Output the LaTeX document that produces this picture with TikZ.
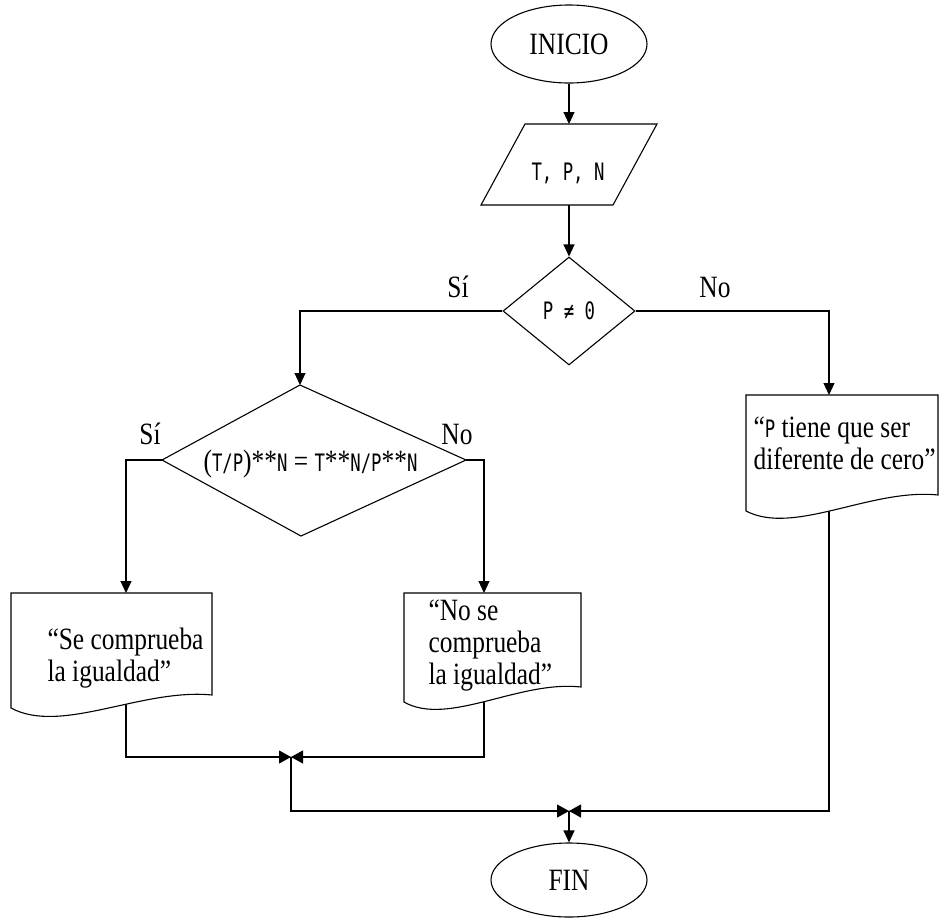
\documentclass[tikz,border=0pt]{standalone}
\usepackage{fontspec}
\setmainfont[FakeStretch=0.82]{Liberation Serif}
\newfontfamily\mono[FakeStretch=0.72]{DejaVu Sans Mono}
\newcommand\mtxt[1]{{\mono\fontsize{24}{32}\selectfont #1}}
\usetikzlibrary{arrows.meta,shapes.geometric}
\begin{document}
\begin{tikzpicture}[x=1pt,y=-1pt,line width=1.1pt,
  every node/.style={inner sep=0pt, font=\fontsize{31}{32}\selectfont},
  arr/.style={-{Triangle[length=12pt,width=11pt]}},
  jarr/.style={-{Triangle[length=12pt,width=13pt]}},
  term/.style={ellipse, draw, fill=white, minimum width=156pt, minimum height=78pt},
  dec/.style={diamond, draw, fill=white, minimum width=132pt, minimum height=108pt},
  shp/.style={draw, fill=white, line join=miter},
  doctext/.style={anchor=north west, align=left},
  lbl/.style={anchor=base}]
\useasboundingbox (0,0) rectangle (940,919);

% named points
\coordinate (pT) at (569,124);
\coordinate (pB) at (569,205);
\coordinate (d2T) at (300,385);
\coordinate (d2R) at (466,460);
\coordinate (d2B) at (301,536);
\coordinate (d2L) at (162,460);
\coordinate (o1T) at (126,593);
\coordinate (o1B) at (126,700);
\coordinate (o2T) at (484,593);
\coordinate (o2B) at (484,698);
\coordinate (o3T) at (829,395);
\coordinate (o3B) at (829,505);
\coordinate (j1) at (291,757);
\coordinate (j2) at (569,811);

% terminators and first decision
\node[term] (ini) at (569,44) {INICIO};
\node[term, minimum height=74pt] (fin) at (569,880) {FIN};
\node[dec] (d1) at (569,311) {\mtxt{P ≠ 0}};

% connectors
\draw[arr] (ini) -- (pT);
\draw[arr] (pB) -- (d1.north);
\draw[arr] (d1.west) -| (d2T);
\draw[arr] (d1.east) -| (o3T);
\draw[arr] (d2L) -| (o1T);
\draw[arr] (d2R) -| (o2T);
\draw[jarr] (o1B) |- (j1);
\draw[jarr] (o2B) |- (j1);
\draw[jarr] (j1) |- (j2);
\draw[jarr] (o3B) |- (j2);
\draw[arr] (j2) -- (fin);

% shapes
\draw[shp] (525,124) -- (657,124) -- (613,205) -- (481,205) -- cycle;
\draw[shp] (d2T) -- (d2R) -- (d2B) -- (d2L) -- cycle;
\draw[shp] (11,708) -- (11,593) -- (212,593) -- (212,695) .. controls (142,688) and (61,735) .. (11,708) -- cycle;
\draw[shp] (404,702) -- (404,593) -- (581,593) -- (581,687) .. controls (519,680) and (448,727) .. (404,702) -- cycle;
\draw[shp] (746,511) -- (746,395) -- (938,395) -- (938,495) .. controls (871,488) and (794,536) .. (746,511) -- cycle;

% texts
\node[anchor=base] (tpn) at (568,180) {\mtxt{T, P, N}};
\node[anchor=base] (eq) at (310.5,471) {(\mtxt{T/P})**\mtxt{N} = \mtxt{T}**\mtxt{N/P}**\mtxt{N}};
\node[doctext] (t1) at (47,627) {“Se comprueba\\la igualdad”};
\node[doctext] (t2) at (428,599) {“No se\\comprueba\\la igualdad”};
\node[doctext] (t3) at (753,416) {“\mtxt{P} tiene que ser\\diferente de cero”};

% branch labels
\node[lbl] (s1) at (458,297) {Sí};
\node[lbl] (n1) at (715,297) {No};
\node[lbl] (s2) at (150,444) {Sí};
\node[lbl] (n2) at (457,444) {No};
\end{tikzpicture}
\end{document}
